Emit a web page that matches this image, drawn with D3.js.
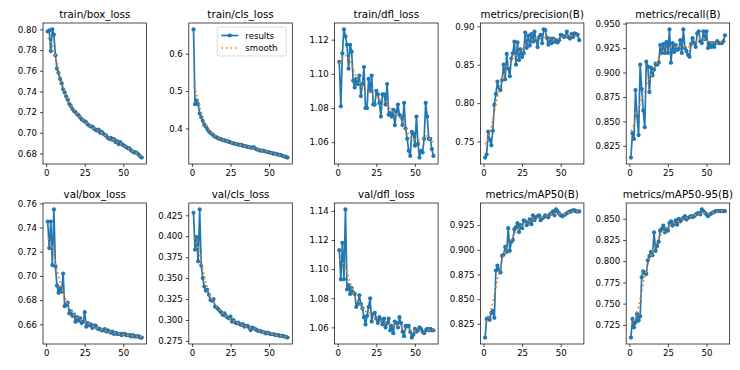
<!DOCTYPE html>
<html>
<head>
<meta charset="utf-8">
<script src="https://cdn.jsdelivr.net/npm/d3@7"></script>
<style>
body { margin: 0; background: #fff; }
svg { font-family: "DejaVu Sans", sans-serif; }
</style>
</head>
<body>
<svg width="740" height="370"></svg>
<script>
// epochs 1..62
var epochs = d3.range(1, 63);

var titles = ["train/box_loss", "train/cls_loss", "train/dfl_loss", "metrics/precision(B)", "metrics/recall(B)",
              "val/box_loss", "val/cls_loss", "val/dfl_loss", "metrics/mAP50(B)", "metrics/mAP50-95(B)"];

var trainBox = [0.798,0.799,0.779,0.800,0.795,0.775,0.762,0.758,0.752,0.748,0.742,0.739,0.735,0.732,0.728,0.726,0.723,0.721,0.720,0.718,
  0.717,0.715,0.713,0.712,0.711,0.710,0.708,0.707,0.706,0.706,0.704,0.703,0.702,0.703,0.700,0.701,0.699,0.698,0.697,0.695,
  0.694,0.695,0.693,0.694,0.691,0.692,0.689,0.691,0.689,0.688,0.687,0.686,0.685,0.685,0.683,0.682,0.681,0.681,0.680,0.679,0.677,0.676];
var trainCls = [0.665,0.465,0.475,0.465,0.440,0.430,0.420,0.410,0.405,0.398,0.392,0.388,0.385,0.381,0.378,0.376,0.374,0.372,0.371,0.369,
  0.368,0.367,0.366,0.364,0.363,0.361,0.360,0.359,0.358,0.357,0.356,0.356,0.354,0.353,0.352,0.351,0.350,0.349,0.348,0.350,
  0.346,0.344,0.343,0.341,0.340,0.341,0.339,0.338,0.337,0.336,0.335,0.334,0.332,0.333,0.331,0.330,0.329,0.328,0.326,0.325,0.323,0.322];
var trainDfl = [1.107,1.081,1.112,1.126,1.122,1.117,1.103,1.117,1.113,1.096,1.092,1.097,1.094,1.099,1.087,1.094,1.104,1.080,1.080,1.097,
  1.090,1.099,1.082,1.082,1.090,1.088,1.083,1.075,1.088,1.088,1.082,1.094,1.076,1.077,1.075,1.079,1.070,1.078,1.082,1.076,
  1.075,1.070,1.083,1.068,1.062,1.055,1.052,1.066,1.065,1.058,1.075,1.059,1.051,1.055,1.054,1.062,1.083,1.075,1.062,1.062,1.056,1.052];
var precision = [0.729,0.733,0.763,0.752,0.745,0.764,0.798,0.812,0.828,0.820,0.817,0.830,0.850,0.831,0.864,0.845,0.835,0.858,0.865,0.880,
  0.850,0.879,0.856,0.870,0.860,0.865,0.892,0.872,0.888,0.875,0.890,0.880,0.893,0.882,0.873,0.886,0.889,0.878,0.896,0.895,
  0.885,0.876,0.884,0.878,0.884,0.880,0.882,0.879,0.882,0.889,0.888,0.886,0.887,0.893,0.886,0.884,0.890,0.886,0.891,0.890,0.889,0.882];
var recall = [0.813,0.838,0.832,0.882,0.855,0.836,0.908,0.883,0.861,0.844,0.911,0.906,0.880,0.905,0.897,0.903,0.909,0.908,0.910,0.928,
  0.920,0.929,0.920,0.931,0.920,0.944,0.910,0.930,0.921,0.928,0.923,0.924,0.933,0.920,0.944,0.925,0.922,0.918,0.916,0.929,
  0.935,0.930,0.926,0.940,0.942,0.932,0.930,0.942,0.934,0.942,0.925,0.930,0.926,0.930,0.926,0.930,0.932,0.930,0.930,0.930,0.932,0.938];
var valBox = [0.745,0.723,0.745,0.709,0.755,0.708,0.692,0.686,0.690,0.687,0.702,0.675,0.676,0.678,0.669,0.671,0.667,0.668,0.662,0.666,
  0.663,0.665,0.661,0.662,0.670,0.658,0.661,0.659,0.660,0.657,0.659,0.659,0.657,0.656,0.656,0.655,0.655,0.656,0.654,0.655,
  0.654,0.653,0.654,0.652,0.653,0.652,0.652,0.652,0.651,0.652,0.652,0.651,0.651,0.651,0.650,0.651,0.650,0.650,0.650,0.650,0.649,0.649];
var valCls = [0.428,0.384,0.399,0.370,0.432,0.365,0.350,0.340,0.335,0.336,0.330,0.324,0.323,0.325,0.316,0.315,0.313,0.311,0.309,0.306,
  0.308,0.305,0.303,0.302,0.304,0.298,0.300,0.297,0.296,0.297,0.295,0.294,0.295,0.292,0.293,0.293,0.291,0.288,0.291,0.290,
  0.289,0.288,0.287,0.287,0.286,0.286,0.285,0.284,0.285,0.284,0.283,0.283,0.283,0.282,0.282,0.282,0.281,0.281,0.281,0.280,0.280,0.279];
var valDfl = [1.113,1.093,1.118,1.093,1.141,1.086,1.089,1.083,1.087,1.084,1.083,1.074,1.076,1.082,1.076,1.073,1.067,1.062,1.068,1.074,
  1.080,1.064,1.069,1.070,1.066,1.063,1.067,1.065,1.062,1.066,1.060,1.063,1.066,1.058,1.061,1.056,1.064,1.063,1.060,1.067,
  1.063,1.057,1.054,1.061,1.061,1.061,1.057,1.053,1.055,1.059,1.057,1.058,1.060,1.059,1.057,1.056,1.058,1.059,1.058,1.059,1.058,1.058];
var map50 = [0.811,0.830,0.831,0.829,0.836,0.838,0.831,0.879,0.884,0.880,0.877,0.894,0.895,0.903,0.898,0.922,0.899,0.908,0.910,0.921,
  0.923,0.927,0.918,0.925,0.922,0.930,0.929,0.925,0.928,0.931,0.926,0.935,0.930,0.933,0.934,0.935,0.930,0.932,0.933,0.935,
  0.934,0.933,0.936,0.937,0.939,0.935,0.941,0.939,0.937,0.935,0.934,0.935,0.936,0.937,0.938,0.939,0.939,0.940,0.940,0.939,0.939,0.939];
var map5095 = [0.710,0.732,0.722,0.728,0.738,0.730,0.735,0.781,0.788,0.786,0.785,0.801,0.806,0.811,0.807,0.834,0.812,0.818,0.823,0.836,
  0.838,0.842,0.834,0.838,0.836,0.845,0.847,0.842,0.844,0.848,0.843,0.850,0.847,0.849,0.851,0.853,0.849,0.851,0.852,0.853,
  0.852,0.853,0.855,0.856,0.857,0.855,0.861,0.859,0.857,0.855,0.853,0.855,0.856,0.857,0.858,0.859,0.859,0.859,0.859,0.859,0.859,0.859];

var seriesList = [trainBox, trainCls, trainDfl, precision, recall, valBox, valCls, valDfl, map50, map5095];

// tick labels
var xTicks = [0, 25, 50];
var yTicks = [
  [0.68,0.70,0.72,0.74,0.76,0.78,0.80],
  [0.4,0.5,0.6],
  [1.06,1.08,1.10,1.12],
  [0.75,0.80,0.85,0.90],
  [0.825,0.850,0.875,0.900,0.925,0.950],
  [0.66,0.68,0.70,0.72,0.74,0.76],
  [0.275,0.300,0.325,0.350,0.375,0.400,0.425],
  [1.06,1.08,1.10,1.12,1.14],
  [0.825,0.850,0.875,0.900,0.925],
  [0.725,0.750,0.775,0.800,0.825,0.850]
];
var yFormats = [".2f", ".1f", ".2f", ".2f", ".3f", ".2f", ".3f", ".2f", ".3f", ".3f"];
var legendLabels = ["results", "smooth"];

// gaussian smoothing, like gaussian_filter1d(sigma=3) with reflect edges
function smooth(y, sigma) {
  var r = Math.round(4 * sigma), n = y.length, w = [], s = 0;
  for (var k = -r; k <= r; k++) { var v = Math.exp(-0.5 * k * k / (sigma * sigma)); w.push(v); s += v; }
  return y.map(function(_, i) {
    var t = 0;
    for (var k = -r; k <= r; k++) {
      var j = i + k;
      while (j < 0 || j >= n) { if (j < 0) j = -j - 1; if (j >= n) j = 2 * n - j - 1; }
      t += w[k + r] * y[j];
    }
    return t / s;
  });
}

var svg = d3.select("svg");
var blue = "#1f77b4", orange = "#ff7f0e";
var axW = 103.5, axH = 141, colStep = 145.8, rowTops = [23, 203], left0 = 43;

seriesList.forEach(function(ys, i) {
  var col = i % 5, row = Math.floor(i / 5);
  var g = svg.append("g").attr("transform", "translate(" + (left0 + col * colStep) + "," + rowTops[row] + ")");
  var sm = smooth(ys, 3);

  var xr = d3.extent(epochs), xp = (xr[1] - xr[0]) * 0.05;
  var x = d3.scaleLinear().domain([xr[0] - xp, xr[1] + xp]).range([0, axW]);
  var yr = d3.extent(ys.concat(sm)), yp = (yr[1] - yr[0]) * 0.05;
  var y = d3.scaleLinear().domain([yr[0] - yp, yr[1] + yp]).range([axH, 0]);

  var line = d3.line().x(function(d, k) { return x(epochs[k]); }).y(function(d) { return y(d); });

  g.append("path").datum(ys).attr("d", line)
    .attr("fill", "none").attr("stroke", blue).attr("stroke-width", 1.7).attr("stroke-linejoin", "round");
  g.append("g").selectAll("circle").data(ys).enter().append("circle")
    .attr("cx", function(d, k) { return x(epochs[k]); })
    .attr("cy", function(d) { return y(d); })
    .attr("r", 2.1).attr("fill", blue);
  g.append("path").datum(sm).attr("d", line)
    .attr("fill", "none").attr("stroke", orange).attr("stroke-width", 1.7).attr("stroke-dasharray", "1.7,2.8");

  var xa = g.append("g").attr("transform", "translate(0," + axH + ")")
    .call(d3.axisBottom(x).tickValues(xTicks).tickSize(3).tickPadding(3).tickFormat(d3.format("d")));
  var ya = g.append("g")
    .call(d3.axisLeft(y).tickValues(yTicks[i]).tickSize(3).tickPadding(3).tickFormat(d3.format(yFormats[i])));
  [xa, ya].forEach(function(a) {
    a.select(".domain").remove();
    a.selectAll("line").attr("stroke", "#000").attr("stroke-width", 0.7);
    a.selectAll("text").attr("font-size", 8.6).attr("fill", "#000").attr("font-family", "DejaVu Sans");
  });

  g.append("rect").attr("width", axW).attr("height", axH)
    .attr("fill", "none").attr("stroke", "#000").attr("stroke-width", 0.7);

  g.append("text").attr("x", axW / 2).attr("y", -5)
    .attr("text-anchor", "middle").attr("font-size", 10.3).attr("fill", "#000")
    .text(titles[i]);

  if (i === 1) {
    var lg = g.append("g").attr("transform", "translate(" + (axW - 75) + ",4)");
    lg.append("rect").attr("width", 69).attr("height", 29).attr("rx", 2)
      .attr("fill", "#fff").attr("fill-opacity", 0.8).attr("stroke", "#ccc").attr("stroke-width", 0.7);
    lg.append("line").attr("x1", 4).attr("x2", 21).attr("y1", 8.5).attr("y2", 8.5)
      .attr("stroke", blue).attr("stroke-width", 1.7);
    lg.append("circle").attr("cx", 12.5).attr("cy", 8.5).attr("r", 2.1).attr("fill", blue);
    lg.append("line").attr("x1", 4).attr("x2", 21).attr("y1", 21).attr("y2", 21)
      .attr("stroke", orange).attr("stroke-width", 1.7).attr("stroke-dasharray", "1.7,2.8");
    lg.selectAll("text.lab").data(legendLabels).enter().append("text")
      .attr("x", 28).attr("y", function(d, k) { return 11.5 + k * 12.5; })
      .attr("font-size", 8.6).attr("fill", "#000").text(function(d) { return d; });
  }
});
</script>
</body>
</html>
